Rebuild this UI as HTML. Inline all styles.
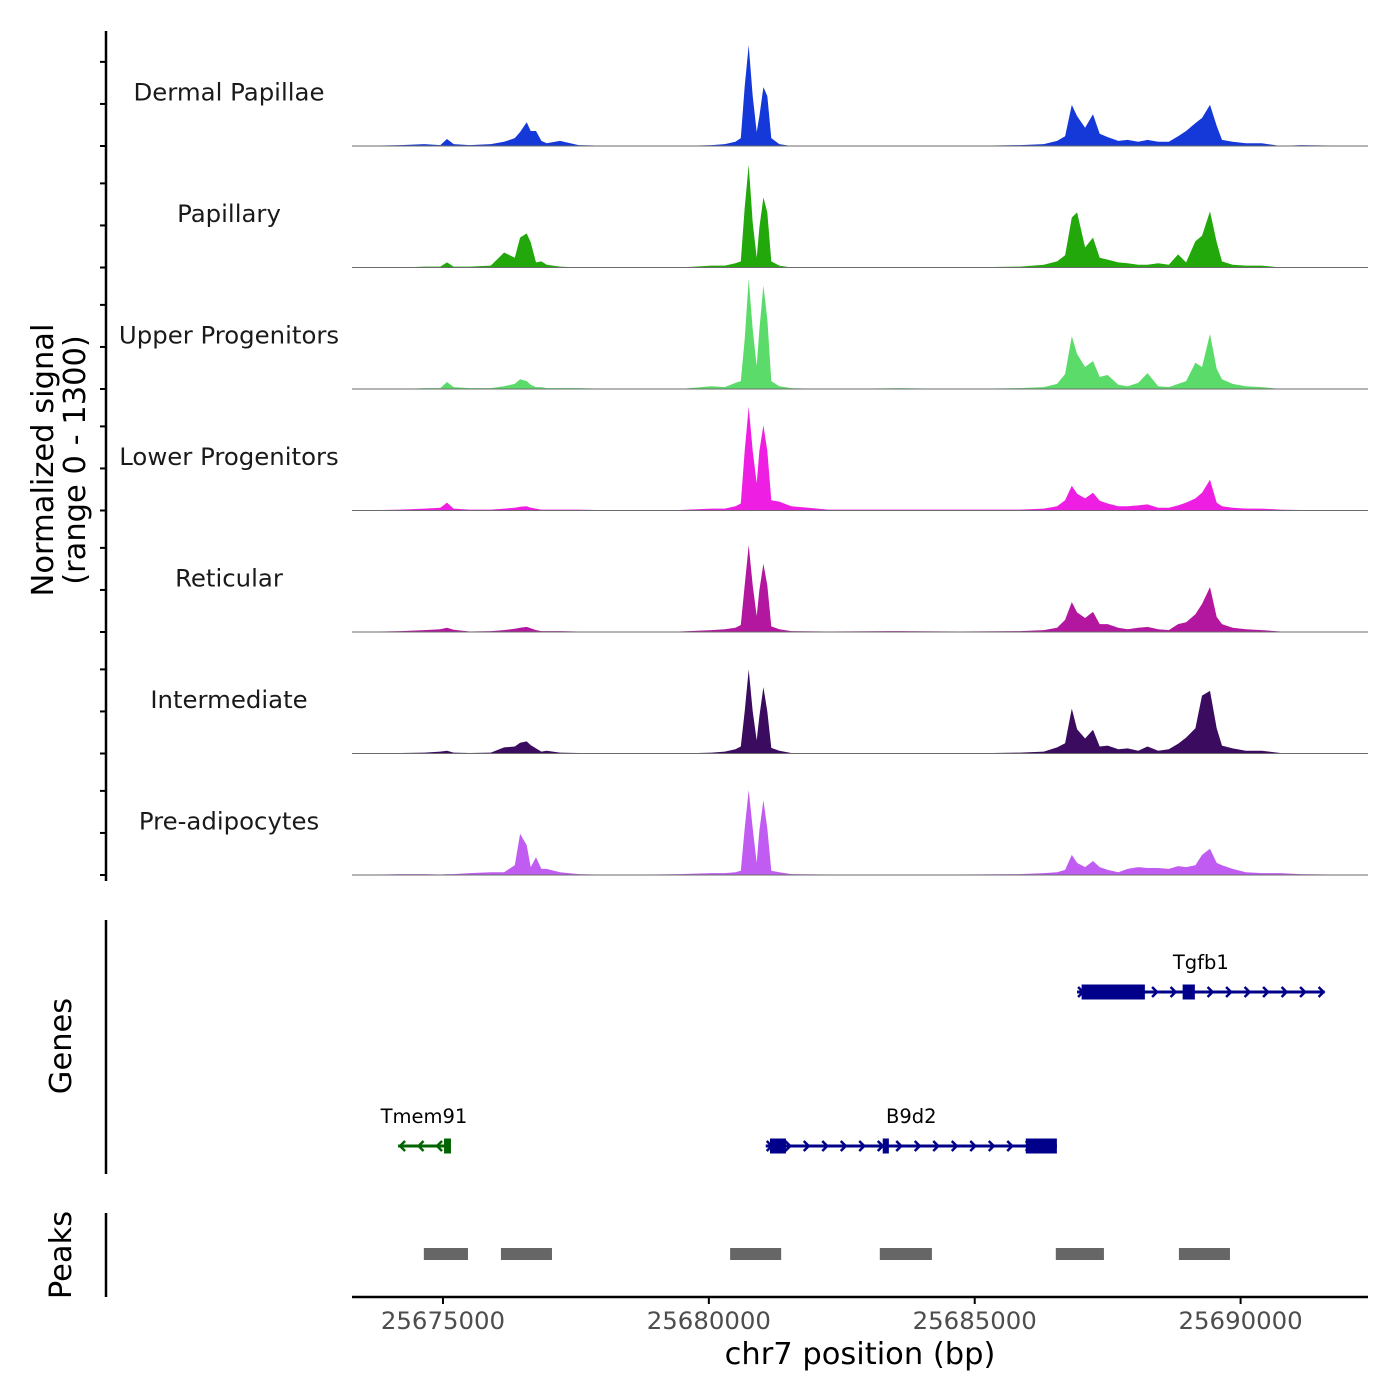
<!DOCTYPE html>
<html><head><meta charset="utf-8"><style>
html,body{margin:0;padding:0;background:#fff;}
svg{display:block;font-family:"DejaVu Sans","Liberation Sans",sans-serif;}
</style></head><body>
<svg id="chart" width="1400" height="1400" viewBox="0 0 1400 1400" xmlns="http://www.w3.org/2000/svg">
<rect width="1400" height="1400" fill="#fff"/>
<g id="tracks"></g>
<g id="genes"></g>
<g id="peaks"></g>
<g id="axes"></g>
</svg>
<script>
const positions = [25673300,25674200,25674650,25674950,25675075,25675200,25675500,25675900,25676150,25676350,
25676450,25676575,25676650,25676750,25676850,25676950,25677200,25677550,25678300,25679450,
25680050,25680300,25680500,25680600,25680675,25680750,25680825,25680900,25680950,25681025,
25681100,25681175,25681325,25681550,25682250,25683600,25684700,25685850,25686300,25686550,
25686700,25686825,25686925,25687075,25687225,25687350,25687500,25687700,25687875,25688075,
25688250,25688450,25688650,25688825,25688975,25689150,25689275,25689425,25689550,25689650,
25689850,25690100,25690400,25690750,25691125,25692400];
const trackNames = ["Dermal Papillae","Papillary","Upper Progenitors","Lower Progenitors","Reticular","Intermediate","Pre-adipocytes"];
const trackColors = ["#1538D8","#22A80A","#5BDC6A","#EE1FE3","#B3169F","#3A0B5E","#C15CF3"];
const sigDermalPapillae = [0,10,20,10,75,20,10,20,45,85,150,255,160,160,55,30,55,10,0,0,10,20,45,85,640,1080,535,150,320,630,535,85,20,0,0,0,0,10,20,55,105,440,320,195,340,130,95,55,65,45,65,45,45,105,160,245,300,440,215,65,45,30,30,0,10,0];
const sigPapillary = [0,0,10,10,55,10,10,20,160,105,320,365,270,55,65,30,10,0,0,0,20,20,45,65,640,1100,480,105,430,750,590,65,20,0,0,0,0,10,30,65,130,535,590,215,320,105,85,55,45,30,30,45,30,140,55,280,340,600,270,65,30,20,20,0,0,0];
const sigUpper = [0,0,10,10,75,20,10,10,30,55,105,85,45,20,20,10,10,10,0,0,30,20,65,85,535,1180,640,245,640,1110,750,85,30,10,0,10,0,10,20,55,160,565,375,235,300,130,150,45,30,65,170,30,20,55,85,280,235,590,215,105,55,30,20,0,0,0];
const sigLower = [0,10,20,30,85,20,10,10,20,30,40,45,30,20,10,10,10,10,0,5,20,20,45,75,640,1110,640,290,640,910,640,110,95,45,10,10,10,10,20,45,110,265,180,130,190,105,75,45,45,55,65,30,30,55,85,130,190,330,85,45,30,20,20,10,5,0];
const sigReticular = [0,10,20,30,45,25,5,10,20,35,45,55,40,20,10,10,10,5,0,5,20,30,45,75,500,930,500,170,450,730,500,60,30,10,5,10,5,10,20,45,130,320,210,150,215,85,85,45,30,45,55,30,20,85,105,190,300,480,160,85,45,30,20,5,0,0];
const sigIntermediate = [0,5,10,20,30,10,5,10,65,75,115,130,90,55,20,30,10,5,0,0,10,20,45,75,450,900,450,140,400,710,450,60,30,5,0,5,0,10,20,65,110,480,260,160,255,75,85,45,55,30,75,30,45,105,170,270,620,670,270,85,55,30,30,5,0,0];
const sigPreadipo = [0,10,10,5,10,10,20,30,30,105,440,320,85,190,65,65,30,10,0,10,20,20,30,45,500,910,500,130,480,800,500,45,30,10,5,5,5,10,20,30,55,215,130,85,150,85,55,30,65,85,75,75,65,95,85,105,215,280,130,105,65,30,20,20,10,0];
const xTicks = [25675000,25680000,25685000,25690000];
const geneNames = ["Tgfb1","B9d2","Tmem91"];
const geneStarts = [25686925,25681070,25674155];
const geneEnds = [25691580,25686545,25675130];
const geneStrands = [1,1,-1];
const geneRows = [0,1,1];
const geneExons = [[[25687010,25688200],[25688910,25689140]],[[25681150,25681450],[25683270,25683385],[25685960,25686545]],[[25675020,25675150]]];
const peakStarts = [25674640,25676090,25680400,25683215,25686525,25688840];
const peakEnds = [25675470,25677050,25681360,25684195,25687430,25689800];
const signals = [sigDermalPapillae,sigPapillary,sigUpper,sigLower,sigReticular,sigIntermediate,sigPreadipo];

const NS="http://www.w3.org/2000/svg";
const X0=352, X1=1368, BP0=25673289, BP1=25692396;
const xs = bp => X0 + (bp-BP0)/(BP1-BP0)*(X1-X0);
const TRACK_H=121.5, TOP=24.5, YMAX=1300;
const base = i => TOP + TRACK_H*(i+1);
const ys = (i,v) => base(i) - v/YMAX*TRACK_H;
function mk(tag, attrs, parent){const e=document.createElementNS(NS,tag);for(const k in attrs)e.setAttribute(k,attrs[k]);parent.appendChild(e);return e;}

const gT=document.getElementById('tracks');
signals.forEach((sig,i)=>{
  let pts=[[xs(positions[0]),base(i)]];
  sig.forEach((v,j)=>pts.push([xs(positions[j]),ys(i,v)]));
  pts.push([xs(positions[positions.length-1]),base(i)]);
  const p=mk('polygon',{points:pts.map(p=>p[0].toFixed(1)+','+p[1].toFixed(1)).join(' '),fill:trackColors[i]},gT);
  
  
  const l=mk('line',{x1:X0,x2:X1,y1:base(i),y2:base(i),stroke:'#6b6b6b','stroke-width':1},gT);
  
  
  const t=mk('text',{x:229,y:base(i)-TRACK_H+76,'text-anchor':'middle','font-size':24.4,fill:'#1a1a1a'},gT);
  t.textContent=trackNames[i];
  
  
});

const gA=document.getElementById('axes');
let a=mk('line',{x1:106,x2:106,y1:31,y2:881,stroke:'#000','stroke-width':2.5},gA);


for(let i=0;i<7;i++){for(const v of [0,450,900]){
  const y=ys(i,v);
  const tk=mk('line',{x1:100,x2:106,y1:y,y2:y,stroke:'#000','stroke-width':2},gA);
  
  
}}
let yt=mk('text',{transform:'translate(53,460) rotate(-90)','text-anchor':'middle','font-size':30.5,fill:'#000'},gA);
yt.textContent='Normalized signal';


let yt2=mk('text',{transform:'translate(85,460) rotate(-90)','text-anchor':'middle','font-size':30.5,fill:'#000'},gA);
yt2.textContent='(range 0 - 1300)';


a=mk('line',{x1:106,x2:106,y1:920,y2:1174,stroke:'#000','stroke-width':2.5},gA);


let gt=mk('text',{transform:'translate(71,1046) rotate(-90)','text-anchor':'middle','font-size':30.5,fill:'#000'},gA);
gt.textContent='Genes';


a=mk('line',{x1:106,x2:106,y1:1213,y2:1297,stroke:'#000','stroke-width':2.5},gA);


let pt=mk('text',{transform:'translate(71,1255) rotate(-90)','text-anchor':'middle','font-size':30.5,fill:'#000'},gA);
pt.textContent='Peaks';


a=mk('line',{x1:X0,x2:X1,y1:1297,y2:1297,stroke:'#000','stroke-width':2.5},gA);


xTicks.forEach(v=>{
  const x=xs(v);
  const tk=mk('line',{x1:x,x2:x,y1:1297,y2:1304,stroke:'#000','stroke-width':2},gA);
  
  
  const tl=mk('text',{x:x,y:1329,'text-anchor':'middle','font-size':24.4,fill:'#4d4d4d'},gA);
  tl.textContent=String(v);
  
  
});
let xt=mk('text',{x:860,y:1364,'text-anchor':'middle','font-size':30.5,fill:'#000'},gA);
xt.textContent='chr7 position (bp)';



const gG=document.getElementById('genes');
const rowY=[992,1146];
geneNames.forEach((name,i)=>{
  const y=rowY[geneRows[i]];
  const col = geneStrands[i]>0 ? '#00008B' : '#006400';
  const g=mk('g',{},gG);
  
  
  const x1=xs(geneStarts[i]), x2=xs(geneEnds[i]);
  mk('line',{x1:x1,x2:x2,y1:y,y2:y,stroke:col,'stroke-width':3},g);
  const step=18.5;
  for(let x=x1+4;x<=x2-2;x+=step){
    const d=geneStrands[i]>0 ? `M${x-3},${y-5} L${x+2},${y} L${x-3},${y+5}` : `M${x+3},${y-5} L${x-2},${y} L${x+3},${y+5}`;
    mk('path',{d:d,stroke:col,'stroke-width':2.5,fill:'none'},g);
  }
  geneExons[i].forEach(ex=>{
    const e=mk('rect',{x:xs(ex[0]),y:y-7.5,width:Math.max(3,xs(ex[1])-xs(ex[0])),height:15,fill:col},g);
    
    
  });
  const lab=mk('text',{x:(x1+x2)/2,y:y-23,'text-anchor':'middle','font-size':19.5,fill:'#000'},g);
  lab.textContent=name;
  
  
});

const gP=document.getElementById('peaks');
peakStarts.forEach((s,i)=>{
  const r=mk('rect',{x:xs(s),y:1248,width:xs(peakEnds[i])-xs(s),height:12,fill:'#666666'},gP);
  
  
});
</script>
</body></html>
